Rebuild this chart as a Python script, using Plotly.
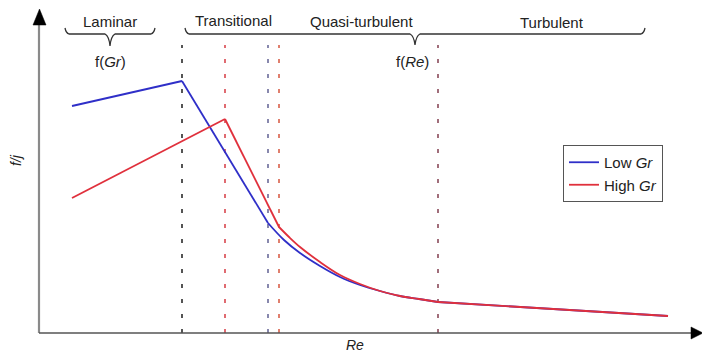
import plotly.graph_objects as go

# Flow regime sketch: friction/Colburn factor ratio against Reynolds number
# Coordinates are schematic (no tick values), origin at the axes corner.

# Low Grashof number curve
low_gr_re = [33, 143, 229, 245, 261, 281, 301, 321, 341, 361, 380, 399, 629]
low_gr_fj = [227, 252, 110, 93, 80, 67, 56, 48, 42, 37, 34, 31, 17]

# High Grashof number curve
high_gr_re = [33, 186, 240, 250, 261, 281, 301, 321, 341, 361, 380, 399, 629]
high_gr_fj = [135, 214, 106, 96, 86, 71, 58, 49, 42, 37, 34, 31, 17]

# index ranges: rising branch, steep drop, curved quasi-turbulent part, turbulent tail
low_breaks = [0, 1, 2, 11, 12]
high_breaks = [0, 1, 2, 11, 12]

# Regime boundaries along Re
boundary_re = [143, 186, 229, 240, 399]
boundary_colors = ["#2b2b2b", "#d9474f", "#6b6b9a", "#d9604a", "#8a4a5a"]
boundary_top = 288

# Regime labels
regime_labels = ["Laminar", "Transitional", "Quasi-turbulent", "Turbulent"]
regime_x = [71, 194, 322, 513]
dependence_labels = ["f(<i>Gr</i>)", "f(<i>Re</i>)"]
dependence_x = [71, 373]

FONT = "Liberation Sans, Arial, sans-serif"
W, H = 702, 354
X0, Y0 = 39, 333  # pixel position of the axes corner


def px(x, y):
    """Pixel position -> data coordinates."""
    return x - X0, Y0 - y


fig = go.Figure()

for xb, col in zip(boundary_re, boundary_colors):
    fig.add_trace(go.Scatter(
        x=[xb, xb], y=[0, boundary_top], mode="lines",
        line=dict(color=col, width=1.6, dash="4px,11px"),
        showlegend=False, hoverinfo="skip"))


def add_series(xs, ys, breaks, name, color):
    # straight pieces stay straight; the quasi-turbulent piece is smoothed
    for k in range(len(breaks) - 1):
        a, b = breaks[k], breaks[k + 1]
        curved = (k == 2)
        fig.add_trace(go.Scatter(
            x=xs[a:b + 1], y=ys[a:b + 1], mode="lines", name=name,
            legendgroup=name, showlegend=(k == 0),
            line=dict(color=color, width=1.8,
                      shape="spline" if curved else "linear", smoothing=1.0)))


add_series(low_gr_re, low_gr_fj, low_breaks, "Low <i>Gr</i>", "#2f2fc8")
add_series(high_gr_re, high_gr_fj, high_breaks, "High <i>Gr</i>", "#e0303c")

shapes = []
# axes lines
ax_a, ay_a = px(39, 333)
ax_b, ay_b = px(39, 22)
shapes.append(dict(type="line", x0=ax_a, y0=ay_a, x1=ax_b, y1=ay_b,
                   xref="x", yref="y", line=dict(color="#8a8a8a", width=2.2)))
bx, by = px(693, 333)
shapes.append(dict(type="line", x0=ax_a, y0=ay_a, x1=bx, y1=by,
                   xref="x", yref="y", line=dict(color="#555555", width=1.6)))

# arrow heads
tri_up = "M{},{} L{},{} L{},{} Z".format(*px(39.5, 9), *px(33, 25), *px(46, 25))
tri_right = "M{},{} L{},{} L{},{} Z".format(*px(703, 333), *px(691, 327), *px(691, 339))
for p in (tri_up, tri_right):
    shapes.append(dict(type="path", path=p, xref="x", yref="y",
                       fillcolor="black", line=dict(color="black", width=0.5)))


def brace(x_left, x_right, x_tip, y_end, y_bar, y_tip):
    pts = [px(x_left, y_end), px(x_left + 1, y_bar - 1), px(x_left + 4, y_bar),
           px(x_tip - 5, y_bar), px(x_tip - 1, y_bar + 2), px(x_tip, y_tip),
           px(x_tip + 1, y_bar + 2), px(x_tip + 5, y_bar),
           px(x_right - 4, y_bar), px(x_right - 1, y_bar - 1), px(x_right, y_end)]
    (x0, y0), (x1, y1), (x2, y2), (x3, y3), (x4, y4), (x5, y5), (x6, y6), (x7, y7), \
        (x8, y8), (x9, y9), (x10, y10) = pts
    return (f"M{x0},{y0} Q{x1},{y1} {x2},{y2} L{x3},{y3} Q{x4},{y4} {x5},{y5} "
            f"Q{x6},{y6} {x7},{y7} L{x8},{y8} Q{x9},{y9} {x10},{y10}")


shapes.append(dict(type="path", path=brace(65, 155, 110, 28, 34, 46), xref="x", yref="y",
                   line=dict(color="#333333", width=1.3)))
shapes.append(dict(type="path", path=brace(185, 645, 415, 28, 34, 45), xref="x", yref="y",
                   line=dict(color="#333333", width=1.3)))

annotations = []
label_y = [21, 20, 21, 22]
for lab, xl, yl in zip(regime_labels, regime_x, label_y):
    x, y = px(xl + X0, yl)
    annotations.append(dict(x=x, y=y, text=lab, showarrow=False, xref="x", yref="y",
                            font=dict(family=FONT, size=15, color="#222222")))
for lab, xl in zip(dependence_labels, dependence_x):
    x, y = px(xl + X0, 61)
    annotations.append(dict(x=x, y=y, text=lab, showarrow=False, xref="x", yref="y",
                            font=dict(family=FONT, size=15, color="#222222")))

x, y = px(355, 345)
annotations.append(dict(x=x, y=y, text="<i>Re</i>", showarrow=False, xref="x", yref="y",
                        font=dict(family=FONT, size=14, color="#222222")))
x, y = px(16, 160)
annotations.append(dict(x=x, y=y, text="<i>f/j</i>", showarrow=False, xref="x", yref="y",
                        textangle=-90, font=dict(family=FONT, size=14, color="#222222")))

fig.update_layout(
    width=W, height=H,
    margin=dict(l=0, r=0, t=0, b=0),
    paper_bgcolor="white", plot_bgcolor="white",
    xaxis=dict(range=[-X0, W - X0], visible=False, fixedrange=True),
    yaxis=dict(range=[Y0 - H, Y0], visible=False, fixedrange=True),
    shapes=shapes, annotations=annotations,
    legend=dict(x=563 / W, y=1 - 145 / H, xanchor="left", yanchor="top",
                bgcolor="white", bordercolor="#555555", borderwidth=1,
                font=dict(family=FONT, size=15, color="#222222"),
                itemwidth=30, tracegroupgap=0),
    showlegend=True,
)

fig.write_html("out.html")
